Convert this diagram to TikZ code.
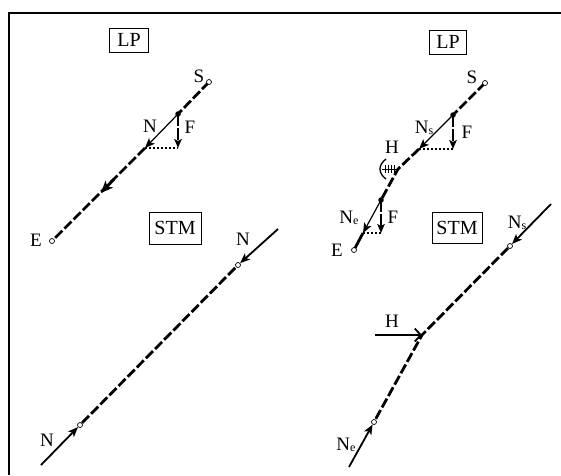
\documentclass[tikz,border=0pt]{standalone}
\usepackage{fontspec}
\setmainfont{Liberation Serif}
\usetikzlibrary{arrows.meta}
\begin{document}
\begin{tikzpicture}[x=1pt,y=-1pt,
  thickdash/.style={line width=2.8pt, dash pattern=on 10pt off 3pt},
  thickline/.style={line width=2.8pt},
  thinline/.style={line width=1.2pt},
  forcearrow/.style={line width=1.8pt},
  dotline/.style={line width=1.2pt, dash pattern=on 1.6pt off 2.4pt},
  endpt/.style={circle, draw, fill=white, line width=0.7pt, inner sep=0pt, minimum size=5pt},
  loadpt/.style={circle, fill=black, inner sep=0pt, minimum size=5.5pt},
  lbl/.style={font=\fontsize{19}{19}\selectfont, inner sep=0pt},
  boxlbl/.style={draw, line width=0.8pt, font=\fontsize{20}{20}\selectfont, inner sep=0pt},
  tip/.style={-{Stealth[length=10pt,width=8pt,inset=2.5pt]}},
  midtip/.style={-{Stealth[length=12pt,width=10pt,inset=3pt]}},
  smalltip/.style={-{Stealth[length=9pt,width=7.5pt,inset=2pt]}},
]
\useasboundingbox (0,0) rectangle (561,475);
\draw[line width=2.2pt] (9,475) -- (9,13) -- (561,13);

% ---------- left LP ----------
\node[boxlbl, minimum width=39pt, minimum height=24pt] (lp1) at (129,40) {LP};
\coordinate (S1) at (209,82);
\coordinate (F1) at (178,114);
\coordinate (N1) at (145,148);
\coordinate (F1b) at (178,148);
\coordinate (M1a) at (114,179);
\coordinate (M1b) at (101,193);
\coordinate (E1) at (52,241);
\draw[thickdash] (S1) -- (F1);
\draw[thinline, tip] (F1) -- (N1);
\draw[thickdash] (N1) -- (E1);
\draw[thickline, midtip] (M1a) -- (M1b);
\draw[dotline] (N1) -- (F1b);
\draw[forcearrow, dash pattern=on 12pt off 2pt, smalltip] (F1) -- (F1b);
\node[endpt] (s1) at (S1) {};
\node[endpt] (e1) at (E1) {};
\node[loadpt] (f1) at (F1) {};
\node[lbl] (tS1) at (199,76) {S};
\node[lbl] (tN1) at (150,126) {N};
\node[lbl] (tF1) at (190,127) {F};
\node[lbl] (tE1) at (36,240) {E};

% ---------- left STM ----------
\node[boxlbl, minimum width=52pt, minimum height=32pt] (stm1) at (175,228) {STM};
\node[endpt] (a1) at (80,425) {};
\node[endpt] (b1) at (238,265) {};
\coordinate (A1s) at (41,465);
\coordinate (B1s) at (278,229);
\draw[thickdash] (a1) -- (b1);
\draw[forcearrow, tip] (A1s) -- (a1);
\draw[forcearrow, tip] (B1s) -- (b1);
\node[lbl] (tN2) at (243,239) {N};
\node[lbl] (tN3) at (47,440) {N};

% ---------- right LP ----------
\node[boxlbl, minimum width=37pt, minimum height=24pt] (lp2) at (448,42) {LP};
\coordinate (S2) at (485,83);
\coordinate (F2) at (453,115);
\coordinate (N2) at (419,149);
\coordinate (F2b) at (453,149);
\coordinate (H2) at (398,169);
\coordinate (F3) at (381,200);
\coordinate (N3) at (363,233);
\coordinate (F3b) at (381,233);
\coordinate (E2) at (354,250);
\draw[thickdash] (S2) -- (F2);
\draw[thinline, tip] (F2) -- (N2);
\draw[thickdash] (N2) -- (H2) -- (F3);
\draw[thinline, tip] (F3) -- (N3);
\draw[thickline] (N3) -- (E2);
\draw[dotline] (N2) -- (F2b);
\draw[dotline] (N3) -- (F3b);
\draw[forcearrow, dash pattern=on 12pt off 2pt, smalltip] (F2) -- (F2b);
\draw[forcearrow, dash pattern=on 12pt off 2pt, smalltip] (F3) -- (F3b);
\node[endpt] (s2) at (S2) {};
\node[endpt] (e2) at (E2) {};
\node[loadpt] (f2) at (F2) {};
\node[loadpt] (f3) at (F3) {};
% hinge symbol
\coordinate (Hl) at (382,169);
\draw[line width=0.9pt] (Hl) -- (H2);
\foreach \xx in {385,388,391,394} \draw[line width=0.7pt] (\xx,165) -- (\xx,173);
\draw[line width=1.3pt] (386,159) .. controls (378,165) and (378,173) .. (386,179);
\node[lbl] (tS2) at (472,77) {S};
\node[lbl] (tN4) at (424,128) {N\raisebox{-0.15ex}{\fontsize{12}{12}\selectfont s}};
\node[lbl] (tF2) at (467,132) {F};
\node[lbl] (tH2) at (392,147) {H};
\node[lbl] (tN5) at (349,218) {N\raisebox{-0.15ex}{\fontsize{12}{12}\selectfont e}};
\node[lbl] (tF3) at (393,217) {F};
\node[lbl] (tE2) at (337,250) {E};

% ---------- right STM ----------
\node[boxlbl, minimum width=50pt, minimum height=31pt] (stm2) at (457,228) {STM};
\node[endpt] (c1) at (510,246) {};
\node[endpt] (d1) at (374,422) {};
\coordinate (Hb) at (422,335);
\coordinate (C1s) at (551,204);
\coordinate (D1s) at (349,467);
\coordinate (Hs) at (375,335);
\draw[thickdash] (c1) -- (Hb) -- (d1);
\draw[forcearrow, tip] (C1s) -- (c1);
\draw[forcearrow, tip] (D1s) -- (d1);
\draw[forcearrow, -{Straight Barb[length=6pt,width=13pt]}] (Hs) -- (Hb);
\node[lbl] (tH3) at (392,321) {H};
\node[lbl] (tN6) at (517,223) {N\raisebox{-0.15ex}{\fontsize{12}{12}\selectfont s}};
\node[lbl] (tN7) at (346,445) {N\raisebox{-0.15ex}{\fontsize{12}{12}\selectfont e}};
\end{tikzpicture}
\end{document}
